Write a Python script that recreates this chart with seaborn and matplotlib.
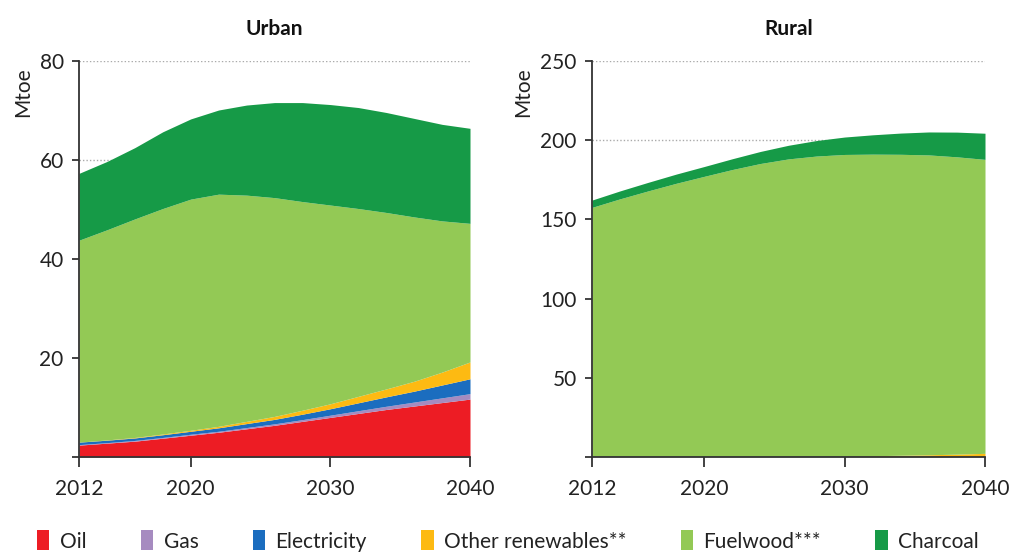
import numpy as np
import matplotlib
matplotlib.use("Agg")
import matplotlib.pyplot as plt
import seaborn as sns

years = [2012, 2014, 2016, 2018, 2020, 2022, 2024, 2026, 2028, 2030, 2032, 2034, 2036, 2038, 2040]
series = ["Oil", "Gas", "Electricity", "Other renewables**", "Fuelwood***", "Charcoal"]
colors = ["#ED1C24", "#A68BC0", "#1B6DBF", "#FDBA12", "#93C955", "#169A47"]

urban_oil = [2.4, 2.8, 3.2, 3.8, 4.4, 5.0, 5.7, 6.4, 7.2, 8.0, 8.8, 9.6, 10.3, 11.0, 11.7]
urban_gas = [0.1, 0.1, 0.15, 0.15, 0.2, 0.2, 0.25, 0.3, 0.35, 0.45, 0.55, 0.65, 0.8, 0.95, 1.1]
urban_elec = [0.5, 0.5, 0.5, 0.55, 0.6, 0.7, 0.8, 0.9, 1.1, 1.3, 1.6, 1.9, 2.2, 2.6, 3.0]
urban_other = [0.0, 0.05, 0.1, 0.15, 0.2, 0.3, 0.45, 0.6, 0.8, 1.0, 1.3, 1.6, 2.0, 2.6, 3.4]
urban_fuelwood = [40.8, 42.45, 44.15, 45.55, 46.7, 46.9, 45.7, 44.2, 42.15, 40.15, 37.95, 35.65, 33.2, 30.55, 28.0]
urban_charcoal = [13.5, 13.8, 14.4, 15.5, 16.2, 17.0, 18.2, 19.2, 20.0, 20.3, 20.4, 20.2, 19.9, 19.5, 19.2]

rural_oil = [0.3, 0.3, 0.3, 0.3, 0.3, 0.3, 0.3, 0.3, 0.3, 0.3, 0.3, 0.3, 0.3, 0.3, 0.3]
rural_gas = [0.0, 0.0, 0.0, 0.0, 0.0, 0.0, 0.0, 0.0, 0.0, 0.0, 0.0, 0.0, 0.0, 0.0, 0.0]
rural_elec = [0.1, 0.1, 0.1, 0.1, 0.1, 0.1, 0.1, 0.1, 0.1, 0.1, 0.1, 0.1, 0.1, 0.1, 0.1]
rural_other = [0.0, 0.0, 0.0, 0.0, 0.0, 0.0, 0.0, 0.0, 0.1, 0.2, 0.4, 0.7, 1.0, 1.4, 1.9]
rural_fuelwood = [157.2, 162.6, 167.6, 172.4, 176.8, 181.1, 184.9, 187.8, 189.5, 190.4, 190.4, 190.0, 189.3, 187.7, 185.6]
rural_charcoal = [4.6, 5.0, 5.4, 5.8, 6.2, 6.8, 7.6, 8.6, 9.8, 11.0, 12.2, 13.4, 14.5, 15.6, 16.5]

sns.set_theme(style="white")
plt.rcParams["font.family"] = ["Lato", "DejaVu Sans"]

fig = plt.figure(figsize=(10.16, 5.53), dpi=100)
ax1 = fig.add_axes([79 / 1016, 1 - 457 / 553, 391 / 1016, 396 / 553])
ax2 = fig.add_axes([592 / 1016, 1 - 457 / 553, 393 / 1016, 396 / 553])

panels = [
    (ax1, "Urban", [urban_oil, urban_gas, urban_elec, urban_other, urban_fuelwood, urban_charcoal],
     [0, 20, 40, 60, 80], ["", "20", "40", "60", "80"], -0.118),
    (ax2, "Rural", [rural_oil, rural_gas, rural_elec, rural_other, rural_fuelwood, rural_charcoal],
     [0, 50, 100, 150, 200, 250], ["", "50", "100", "150", "200", "250"], -0.150),
]

handles = None
for ax, title, data, yt, ytl, lx in panels:
    polys = ax.stackplot(years, *data, colors=colors, labels=series, linewidth=0, zorder=2)
    handles = polys
    ax.set_xlim(2012, 2040)
    ax.set_ylim(0, yt[-1])
    ax.set_yticks(yt)
    ax.set_yticklabels(ytl)
    ax.set_xticks([2012, 2020, 2030, 2040])
    ax.tick_params(axis="y", labelsize=15, colors="#222222", length=5, width=1.2,
                   direction="out", left=True, pad=6)
    ax.tick_params(axis="x", labelsize=15, colors="#222222", length=7, width=1.2,
                   direction="out", bottom=True, pad=9)
    for s in ["top", "right"]:
        ax.spines[s].set_visible(False)
    for s in ["left", "bottom"]:
        ax.spines[s].set_color("#333333")
        ax.spines[s].set_linewidth(1.3)
    ax.grid(axis="y", linestyle=(0, (1, 1.5)), color="#aaaaaa", linewidth=1, zorder=0)
    ax.set_axisbelow(True)
    ax.set_title(title, fontsize=15, fontweight="bold", pad=19, color="#111111")
    ax.set_ylabel("Mtoe", fontsize=15, color="#222222")
    ax.yaxis.set_label_coords(lx, 0.92)
    ax.set_xlabel("")

fig.legend(handles, series, loc="center", bbox_to_anchor=(0.5, 1 - 541 / 553), ncol=6,
           frameon=False, fontsize=15, handlelength=0.6, handleheight=1.1,
           handletextpad=0.5, columnspacing=2.6, labelcolor="#222222")

fig.savefig("out.png", dpi=100)
